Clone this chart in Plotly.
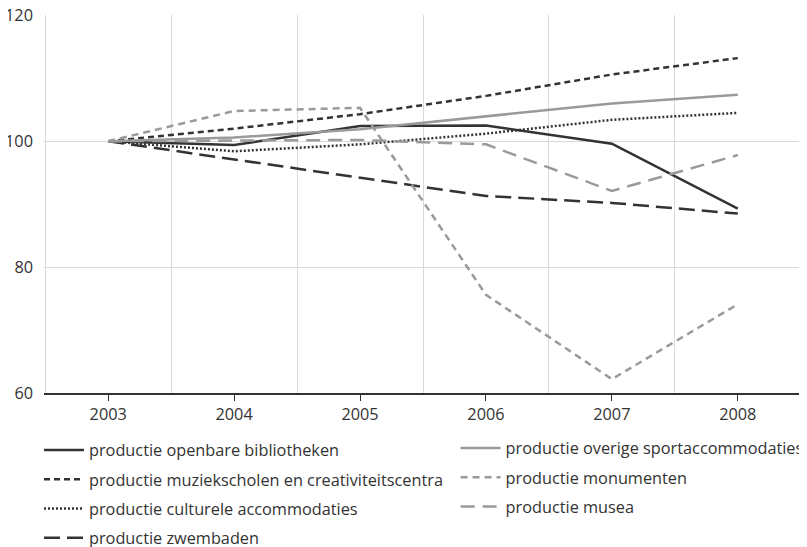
import plotly.graph_objects as go

years = [2003, 2004, 2005, 2006, 2007, 2008]
y_ticks = [60, 80, 100, 120]

bibliotheken = [100, 99.4, 102.4, 102.5, 99.6, 89.3]
muziekscholen = [100, 102.0, 104.3, 107.2, 110.6, 113.2]
culturele = [100, 98.4, 99.5, 101.2, 103.4, 104.5]
zwembaden = [100, 97.1, 94.3, 91.3, 90.2, 88.5]
sport = [100, 100.6, 101.9, 103.9, 106.0, 107.4]
monumenten = [100, 104.8, 105.3, 75.6, 62.2, 74.1]
musea = [100, 100.1, 100.2, 99.5, 92.1, 97.8]

DARK = "#333333"
GRAY = "#9a9a9a"
FONT = "Open Sans"
FS = 16.3

series = [
    ("productie openbare bibliotheken", bibliotheken, DARK, "solid", "legend"),
    ("productie muziekscholen en creativiteitscentra", muziekscholen, DARK, "6px,4px", "legend"),
    ("productie culturele accommodaties", culturele, DARK, "2px,2px", "legend"),
    ("productie zwembaden", zwembaden, DARK, "16px,7px", "legend"),
    ("productie overige sportaccommodaties", sport, GRAY, "solid", "legend2"),
    ("productie monumenten", monumenten, GRAY, "7px,5px", "legend2"),
    ("productie musea", musea, GRAY, "14px,8px", "legend2"),
]

fig = go.Figure()
for i, (name, vals, col, dash, leg) in enumerate(series):
    fig.add_trace(go.Scatter(
        x=years, y=vals, mode="lines", name=name,
        line=dict(color=col, width=2.5, dash=dash),
        legend=leg, legendgroup=name,
    ))

legend_common = dict(
    font=dict(family=FONT, size=FS, color=DARK),
    bgcolor="rgba(0,0,0,0)",
    tracegroupgap=5,
    itemwidth=40,
    xanchor="left", yanchor="top",
    orientation="v",
)

# page body has an 8px default margin, so the figure is sized/offset to compensate
fig.update_layout(
    width=799, height=539,
    margin=dict(l=36, r=5, t=7, b=154, autoexpand=False),
    plot_bgcolor="white", paper_bgcolor="white",
    font=dict(family=FONT, size=FS, color=DARK),
    showlegend=True,
    legend=dict(x=-0.0066, y=-0.1058, **legend_common),
    legend2=dict(x=0.543, y=-0.1005, **legend_common),
    xaxis=dict(
        range=[2002.49, 2008.51],
        tickvals=years, ticktext=[str(y) for y in years],
        showgrid=False, automargin=False,
        ticks="outside", ticklen=6, tickcolor=DARK, tickwidth=1.2,
        showline=True, linecolor=DARK, linewidth=1.5,
        tickfont=dict(family=FONT, size=FS, color=DARK),
        minor=dict(tickvals=[2002.5, 2003.5, 2004.5, 2005.5, 2006.5, 2007.5, 2008.5],
                   showgrid=True, gridcolor="#d9d9d9", gridwidth=1, ticks=""),
        zeroline=False,
    ),
    yaxis=dict(
        range=[60, 120.05], automargin=False,
        tickvals=y_ticks,
        showgrid=True, gridcolor="#d9d9d9", gridwidth=1,
        ticks="", showline=False, zeroline=False,
        tickfont=dict(family=FONT, size=FS, color=DARK),
        ticklabelstandoff=10, ticklabeloverflow="allow",
    ),
)

fig.write_html("out.html")
